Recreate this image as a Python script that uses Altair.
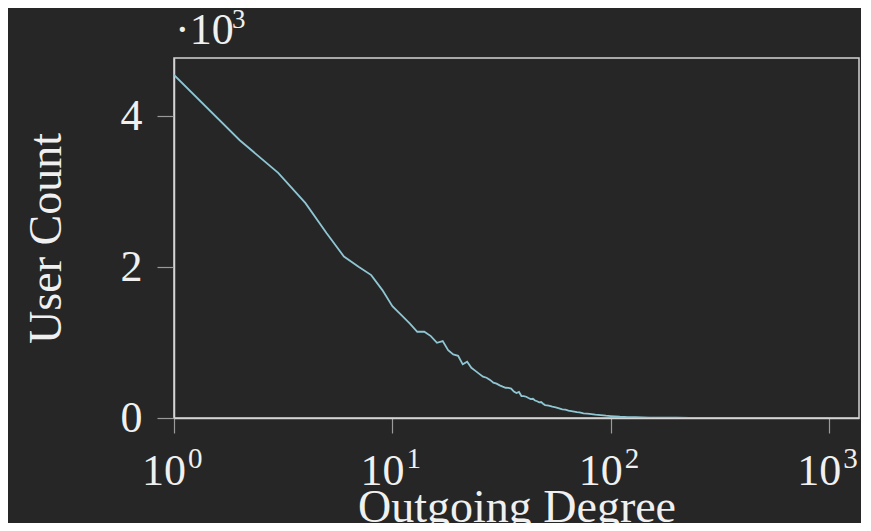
import altair as alt
import pandas as pd

degree = [1, 2, 3, 4, 5, 6, 7, 8, 9, 10, 11, 12, 13, 14, 15, 16, 17, 18, 19, 20,
          21, 22, 23, 24, 25, 26, 27, 28, 29, 30, 31, 32, 33, 34, 35, 36, 37, 38, 39, 40,
          41, 42, 43, 44, 45, 46, 47, 48, 49, 50, 52, 54, 56, 58, 60, 62, 64, 66, 68, 70,
          72, 75, 78, 80, 85, 90, 95, 100, 105, 110, 115, 120, 130, 140, 150, 160, 180, 200,
          230, 260, 300, 350, 400, 500, 600, 700, 800, 900, 1000]
user_count = [4547, 3682, 3250, 2848, 2450, 2140, 2004, 1894, 1695, 1483, 1364, 1254, 1143, 1143, 1086, 997, 1020, 900, 843, 825,
              711, 746, 665, 625, 585, 547, 534, 505, 468, 455, 432, 415, 401, 398, 390, 350, 330, 345, 291, 290,
              282, 265, 250, 255, 232, 222, 208, 212, 190, 172, 165, 150, 140, 128, 115, 112, 98, 92, 85, 78,
              74, 62, 58, 55, 45, 38, 31, 26, 22, 17, 15, 12, 10, 8, 6, 5, 4, 3,
              2, 2, 1, 1, 1, 0, 1, 0, 0, 0, 0]

x_ticks = [1, 10, 100, 1000]
x_bases = ["10", "10", "10", "10"]
x_exponents = ["0", "1", "2", "3"]
y_ticks = [0, 2000, 4000]
scale_base = "·10"
scale_exp = "3"

df = pd.DataFrame({"degree": degree, "count": user_count})
tick_df = pd.DataFrame({"degree": x_ticks, "base": x_bases, "exp": x_exponents})

BG = "#262626"
TXT = "#f0f0f0"
FRAME = "#d4d4d4"
TICK = "#9a9a9a"
LINE = "#8fc6d4"
FONT = "Liberation Serif"
LABEL_SIZE = 44
SUP_SIZE = 29

x_scale = alt.Scale(type="log", domain=[1, 1370], nice=False)

line = alt.Chart(df).mark_line(color=LINE, strokeWidth=1.8, clip=True).encode(
    x=alt.X("degree:Q", scale=x_scale,
            axis=alt.Axis(values=x_ticks, labels=False,
                          title="Outgoing Degree",
                          grid=False, tickSize=15, tickColor=TICK, tickWidth=1.2,
                          domainColor=FRAME, domainWidth=1.5,
                          titleFont=FONT, titleFontSize=46, titleFontWeight="normal",
                          titleColor=TXT, titleBaseline="alphabetic", titleY=103)),
    y=alt.Y("count:Q",
            scale=alt.Scale(domain=[0, 4772], nice=False, zero=True),
            axis=alt.Axis(values=y_ticks, labelExpr="datum.value / 1000",
                          title="User Count",
                          grid=False, tickSize=17, tickColor=TICK, tickWidth=1.2,
                          domainColor=FRAME, domainWidth=1.5,
                          labelFont=FONT, labelFontSize=LABEL_SIZE, labelColor=TXT,
                          labelPadding=15, labelOverlap=False, labelFlush=False,
                          titleFont=FONT, titleFontSize=46, titleFontWeight="normal",
                          titleColor=TXT, titleAngle=270, titleBaseline="alphabetic",
                          titleAlign="center", titleX=-114, titleY=180)),
)

bases = alt.Chart(tick_df).mark_text(
    font=FONT, fontSize=LABEL_SIZE, color=TXT, align="right", baseline="alphabetic", dx=12, clip=False
).encode(x=alt.X("degree:Q", scale=x_scale), y=alt.value(427), text="base:N")

sups = alt.Chart(tick_df).mark_text(
    font=FONT, fontSize=SUP_SIZE, color=TXT, align="left", baseline="alphabetic", dx=14, clip=False
).encode(x=alt.X("degree:Q", scale=x_scale), y=alt.value(410), text="exp:N")

base_label = alt.Chart(pd.DataFrame({"t": [scale_base]})).mark_text(
    font=FONT, fontSize=LABEL_SIZE, color=TXT, align="left", baseline="alphabetic"
).encode(text="t:N", x=alt.value(1), y=alt.value(-14))

exp_label = alt.Chart(pd.DataFrame({"t": [scale_exp]})).mark_text(
    font=FONT, fontSize=27, color=TXT, align="left", baseline="alphabetic"
).encode(text="t:N", x=alt.value(58), y=alt.value(-30))

chart = alt.layer(line, bases, sups, base_label, exp_label).properties(
    width=685, height=360,
    autosize=alt.AutoSizeParams(type="none"),
    padding={"left": 166, "top": 50, "right": 2, "bottom": 105},
    background=BG,
).configure_view(stroke=FRAME, strokeWidth=1.5)

chart.save("out.html", embed_options={"renderer": "svg", "actions": False})
